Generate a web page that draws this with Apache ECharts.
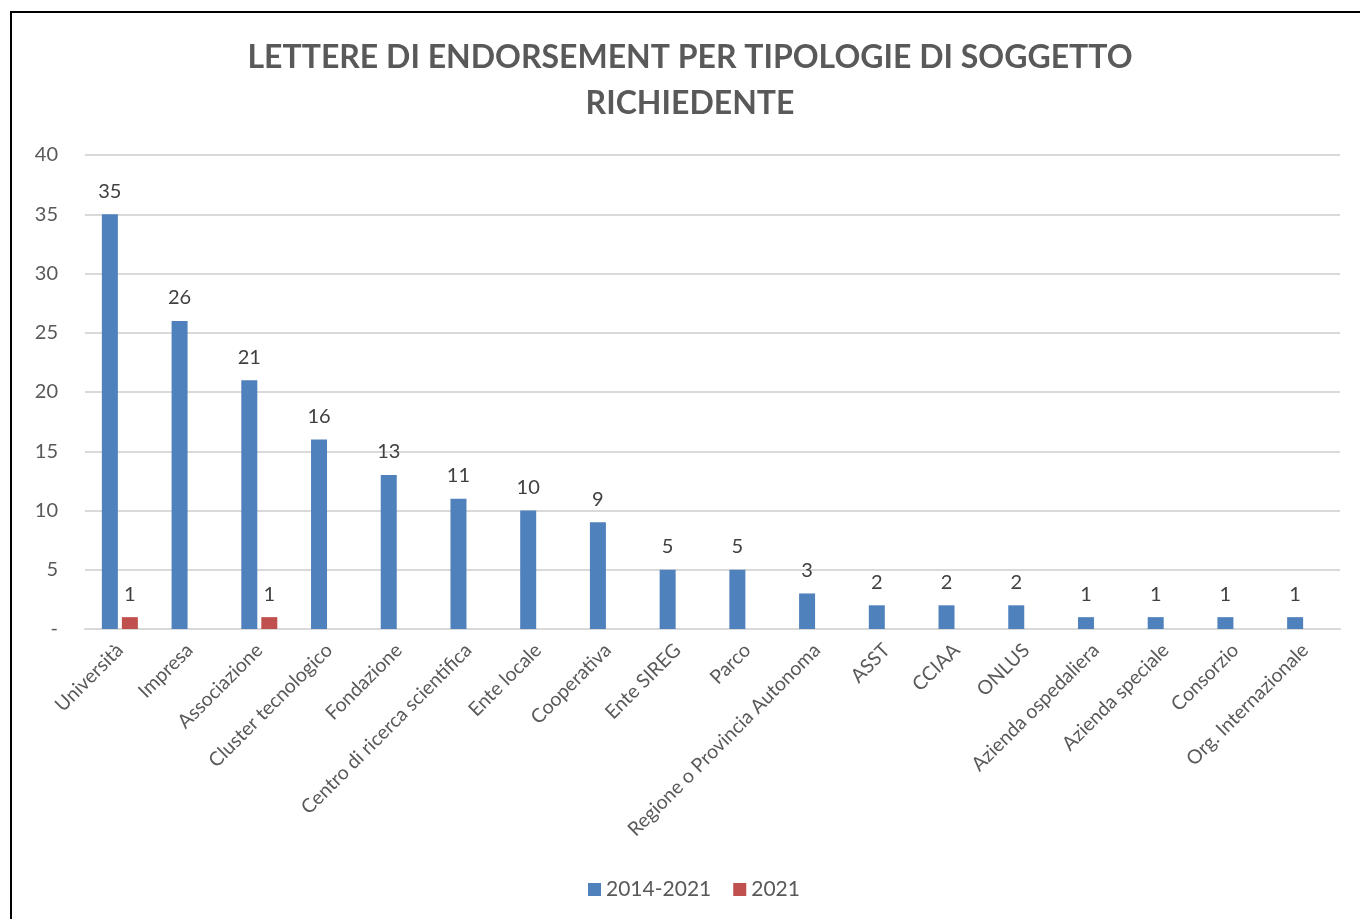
<!DOCTYPE html>
<html>
<head>
<meta charset="utf-8">
<script src="https://cdn.jsdelivr.net/npm/echarts@6/dist/echarts.min.js"></script>
<style>
  html, body { margin: 0; padding: 0; background: #fff; }
  #chart { width: 1360px; height: 919px; }
</style>
</head>
<body>
<div id="chart"></div>
<script>
const categories = [
  'Università', 'Impresa', 'Associazione', 'Cluster tecnologico', 'Fondazione',
  'Centro di ricerca scientifica', 'Ente locale', 'Cooperativa', 'Ente SIREG', 'Parco',
  'Regione o Provincia Autonoma', 'ASST', 'CCIAA', 'ONLUS', 'Azienda ospedaliera',
  'Azienda speciale', 'Consorzio', 'Org. Internazionale'
];
const total2014_2021 = [35, 26, 21, 16, 13, 11, 10, 9, 5, 5, 3, 2, 2, 2, 1, 1, 1, 1];
const only2021 = [1, null, 1, null, null, null, null, null, null, null, null, null, null, null, null, null, null, null];
const seriesNames = ['2014-2021', '2021'];
const titleText = 'LETTERE DI ENDORSEMENT PER TIPOLOGIE DI SOGGETTO\nRICHIEDENTE';

const FONT = 'Lato, "Open Sans", sans-serif';
const chart = echarts.init(document.getElementById('chart'));

const labelStyle = {
  show: true,
  position: 'top',
  distance: 13,
  color: '#404040',
  fontSize: 20,
  fontFamily: FONT
};

chart.setOption({
  animation: false,
  backgroundColor: '#ffffff',
  title: {
    text: titleText,
    left: 685,
    textAlign: 'center',
    top: 30,
    textStyle: {
      color: '#595959',
      fontSize: 32,
      fontWeight: 'bold',
      fontFamily: FONT,
      lineHeight: 46
    }
  },
  graphic: [{
    type: 'rect',
    silent: true,
    shape: { x: 11, y: 12, width: 1400, height: 1000 },
    style: { fill: 'none', stroke: '#000000', lineWidth: 2 }
  }],
  legend: {
    bottom: 14,
    left: 583,
    itemWidth: 13,
    itemHeight: 13,
    itemGap: 22,
    icon: 'rect',
    textStyle: { color: '#595959', fontSize: 21, fontFamily: FONT },
    data: seriesNames
  },
  grid: { left: 85, right: 20, top: 155, bottom: 290 },
  xAxis: {
    type: 'category',
    data: categories,
    axisLine: { lineStyle: { color: '#d9d9d9', width: 2 } },
    axisTick: { show: false },
    axisLabel: {
      rotate: 45,
      interval: 0,
      margin: 18,
      color: '#595959',
      fontSize: 19.5,
      fontFamily: FONT
    }
  },
  yAxis: {
    type: 'value',
    min: 0,
    max: 40,
    interval: 5,
    axisLine: { show: false },
    axisTick: { show: false },
    splitLine: { lineStyle: { color: '#d9d9d9', width: 2 } },
    axisLabel: {
      margin: 27,
      color: '#595959',
      fontSize: 20,
      fontFamily: FONT,
      formatter: v => (v === 0 ? '-' : String(v))
    }
  },
  series: [
    {
      name: seriesNames[0],
      type: 'bar',
      data: total2014_2021,
      barWidth: 16,
      barGap: '25%',
      itemStyle: { color: '#4f81bd' },
      label: labelStyle
    },
    {
      name: seriesNames[1],
      type: 'bar',
      data: only2021,
      barWidth: 16,
      itemStyle: { color: '#c0504d' },
      label: labelStyle
    }
  ]
});
</script>
</body>
</html>
